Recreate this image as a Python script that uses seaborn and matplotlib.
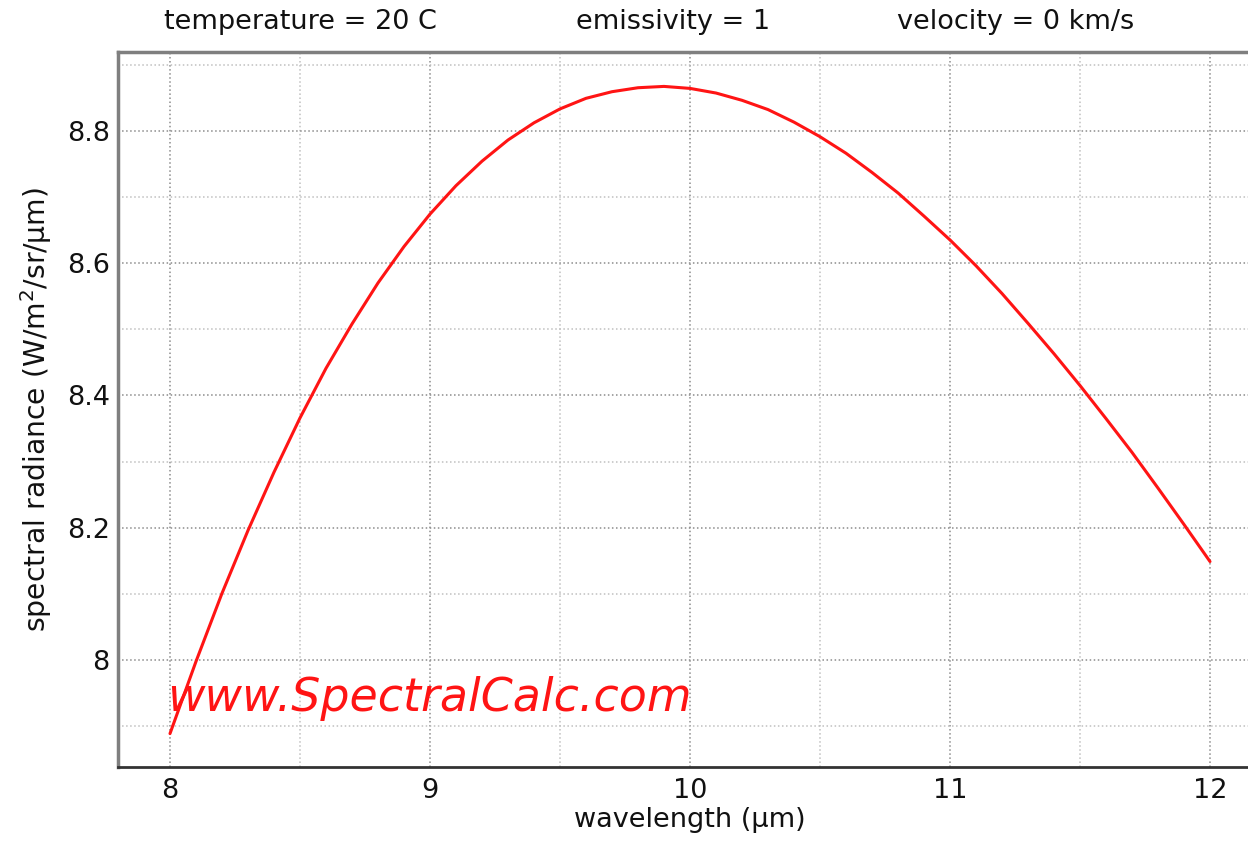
import matplotlib
matplotlib.use('Agg')
import numpy as np
import pandas as pd
import seaborn as sns
import matplotlib.pyplot as plt
from matplotlib.ticker import MultipleLocator, FormatStrFormatter

# values
wavelength = [8.0, 8.1, 8.2, 8.3, 8.4, 8.5, 8.6, 8.7, 8.8, 8.9,
              9.0, 9.1, 9.2, 9.3, 9.4, 9.5, 9.6, 9.7, 9.8, 9.9,
              10.0, 10.1, 10.2, 10.3, 10.4, 10.5, 10.6, 10.7, 10.8, 10.9,
              11.0, 11.1, 11.2, 11.3, 11.4, 11.5, 11.6, 11.7, 11.8, 11.9, 12.0]
radiance = [7.889, 7.998, 8.101, 8.196, 8.284, 8.366, 8.441, 8.508, 8.570, 8.625,
            8.674, 8.717, 8.754, 8.786, 8.812, 8.833, 8.849, 8.859, 8.865, 8.867,
            8.864, 8.857, 8.846, 8.832, 8.813, 8.791, 8.766, 8.737, 8.706, 8.671,
            8.635, 8.596, 8.554, 8.509, 8.463, 8.415, 8.365, 8.314, 8.260, 8.205, 8.149]

header = ['temperature = 20 C', 'emissivity = 1', 'velocity = 0 km/s']
header_x = [0.241, 0.539, 0.814]

line_color = '#ff1414'
grid_major = '#8c8c8c'
grid_minor = '#c0c0c0'
text_color = '#111111'

sns.set_style('white')
plt.rcParams['font.family'] = ['DejaVu Sans']

df = pd.DataFrame({'wavelength': wavelength, 'radiance': radiance})

fig = plt.figure(figsize=(12.48, 8.41), dpi=100)
ax = fig.add_axes([118 / 1248, 1 - 767 / 841, 1144 / 1248, 715 / 841])

sns.lineplot(data=df, x='wavelength', y='radiance', ax=ax, color=line_color, lw=2.2)

ax.set_xlim(7.8, 12.2)
ax.set_ylim(7.8385, 8.919)
ax.xaxis.set_major_locator(MultipleLocator(1))
ax.xaxis.set_minor_locator(MultipleLocator(0.5))
ax.yaxis.set_major_locator(MultipleLocator(0.2))
ax.yaxis.set_minor_locator(MultipleLocator(0.1))
ax.yaxis.set_major_formatter(FormatStrFormatter('%g'))

ax.grid(True, which='major', color=grid_major, linestyle=':', lw=1.1)
ax.grid(True, which='minor', color=grid_minor, linestyle=':', lw=1.1)
ax.tick_params(which='both', length=0, labelsize=19.5, colors=text_color)
ax.tick_params(axis='x', pad=8)
ax.tick_params(axis='y', pad=6)

ax.set_xlabel('wavelength (µm)', fontsize=19.5, labelpad=2, color=text_color)
ax.set_ylabel('spectral radiance (W/m$^2$/sr/µm)', fontsize=20.3, labelpad=9, color=text_color)

for side in ['left', 'top']:
    ax.spines[side].set_color('#7f7f7f')
    ax.spines[side].set_linewidth(2.5)
ax.spines['bottom'].set_color('#333333')
ax.spines['bottom'].set_linewidth(2)
ax.spines['right'].set_visible(False)

for txt, xp in zip(header, header_x):
    fig.text(xp, 1 - 22 / 841, txt, fontsize=19.5, ha='center', va='center', color=text_color)

ax.text(7.99, 7.942, 'www.SpectralCalc.com', fontsize=33, style='italic',
        color=line_color, ha='left', va='center')

fig.savefig('out.png', dpi=100)
